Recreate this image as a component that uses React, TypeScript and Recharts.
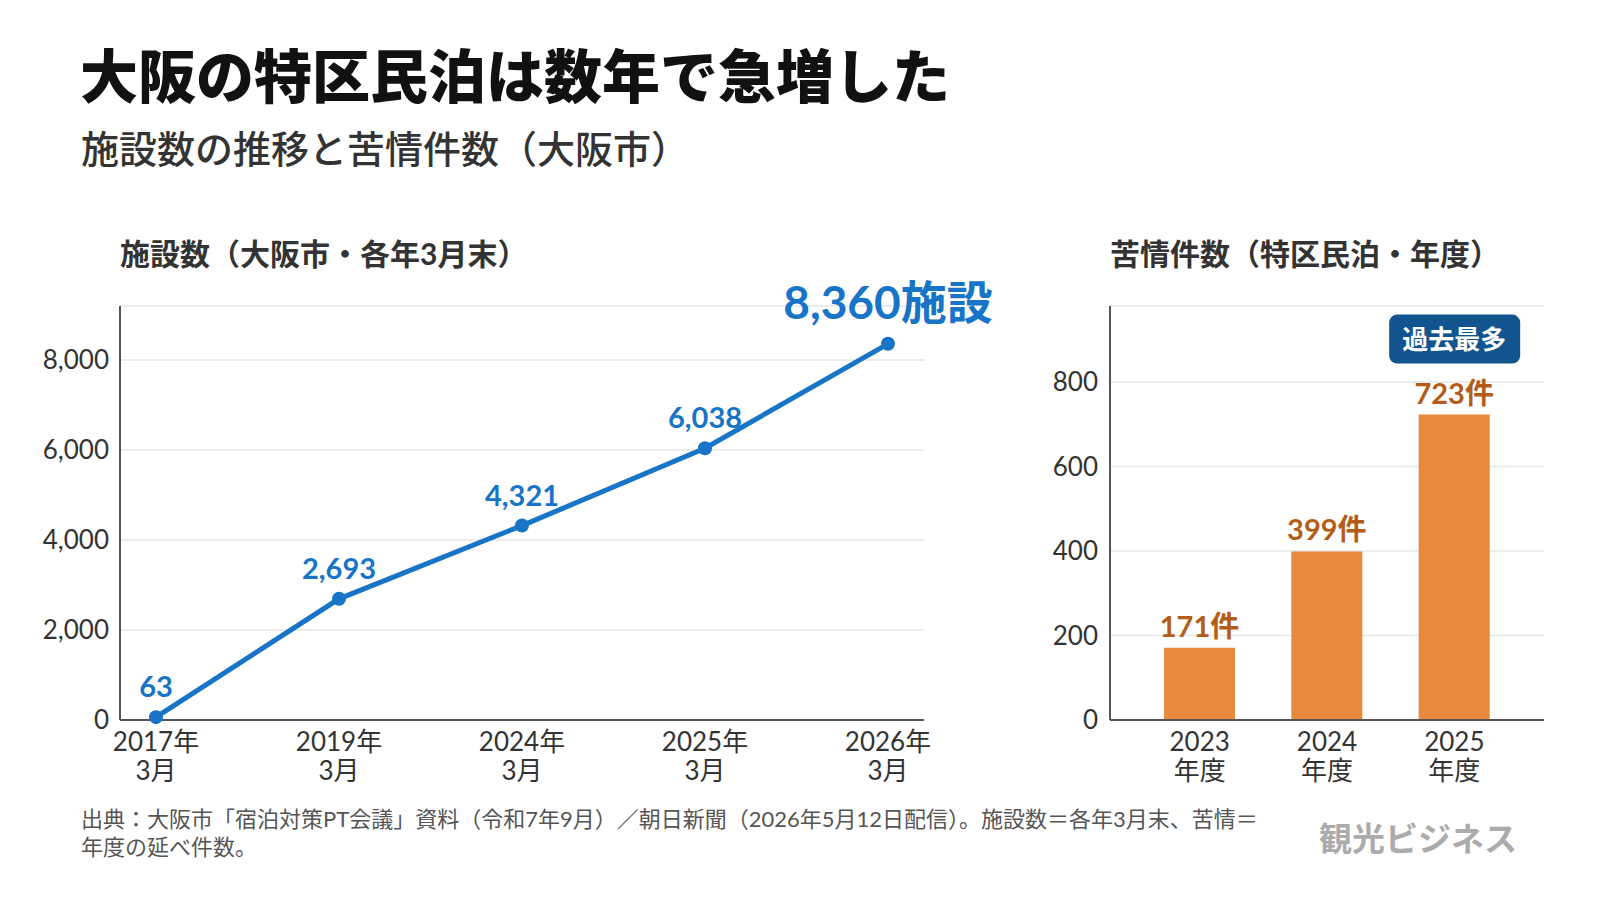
import { LineChart, Line, BarChart, Bar, XAxis, YAxis, CartesianGrid, LabelList } from 'recharts'

const facilityYears = ['2017年', '2019年', '2024年', '2025年', '2026年']
const facilityMonth = '3月'
const facilityCounts = [63, 2693, 4321, 6038, 8360]
const facilityTicks = [0, 2000, 4000, 6000, 8000]

const complaintYears = ['2023', '2024', '2025']
const complaintSuffix = '年度'
const complaintCounts = [171, 399, 723]
const complaintTicks = [0, 200, 400, 600, 800]

const BLUE = '#1874c6'
const ORANGE = '#e8893b'
const ORANGE_TEXT = '#b35d19'
const NAVY = '#12548e'
const AXIS = '#555555'
const GRID = '#e6e6e6'
const TEXT = '#333333'
const FONT = "Lato, 'Noto Sans CJK JP', sans-serif"

const lineData = facilityYears.map((year, i) => ({ year, count: facilityCounts[i] }))
const barData = complaintYears.map((year, i) => ({ year, count: complaintCounts[i] }))

const TwoLineTick = ({ x, y, payload, second }: any) => (
  <g>
    <text x={x} y={y + 23} textAnchor="middle" fill={TEXT} fontSize={26} fontFamily={FONT}>
      {payload.value}
    </text>
    <text x={x} y={y + 52} textAnchor="middle" fill={TEXT} fontSize={26} fontFamily={FONT}>
      {second}
    </text>
  </g>
)

const LineValueLabel = ({ x, y, value, index }: any) => {
  const last = index === facilityCounts.length - 1
  const text = value.toLocaleString('en-US') + (last ? '施設' : '')
  return (
    <text
      x={x}
      y={last ? y - 25 : y - 20}
      textAnchor="middle"
      fill={BLUE}
      fontSize={last ? 46 : 29}
      fontWeight={700}
      fontFamily={FONT}
    >
      {text}
    </text>
  )
}

const BarValueLabel = ({ x, y, width, value }: any) => {
  const cx = x + width / 2
  const isMax = value === Math.max(...complaintCounts)
  return (
    <g>
      <text x={cx} y={y - 11} textAnchor="middle" fill={ORANGE_TEXT} fontSize={29} fontWeight={700} fontFamily={FONT}>
        {value}件
      </text>
      {isMax && (
        <g>
          <rect x={cx - 65} y={y - 100} width={131} height={49} rx={8} fill={NAVY} />
          <text x={cx} y={y - 66} textAnchor="middle" fill="#fff" fontSize={26} fontWeight={700} fontFamily={FONT}>
            過去最多
          </text>
        </g>
      )}
    </g>
  )
}

const abs = (left: number, top: number, extra: any = {}) => ({
  position: 'absolute' as const,
  left,
  top,
  lineHeight: 1,
  whiteSpace: 'nowrap' as const,
  fontFamily: FONT,
  ...extra,
})

export default function App() {
  return (
    <div style={{ position: 'absolute', left: 0, top: 0, width: 1600, height: 900, background: '#fff', overflow: 'hidden' }}>
      <div style={abs(80, 47, { fontSize: 58, fontWeight: 900, color: '#111' })}>大阪の特区民泊は数年で急増した</div>
      <div style={abs(81, 129, { fontSize: 38, fontWeight: 500, color: TEXT })}>施設数の推移と苦情件数（大阪市）</div>

      <div style={abs(120, 238, { fontSize: 30, fontWeight: 700, color: TEXT })}>施設数（大阪市・各年3月末）</div>
      <div style={abs(1110, 238, { fontSize: 30, fontWeight: 700, color: TEXT })}>苦情件数（特区民泊・年度）</div>

      <div style={{ position: 'absolute', left: 0, top: 250 }}>
        <LineChart width={1010} height={550} data={lineData} margin={{ top: 56, right: 86, left: 20, bottom: 10 }}>
          <CartesianGrid vertical={false} stroke={GRID} strokeWidth={1.5} />
          <XAxis
            dataKey="year"
            height={70}
            padding={{ left: 36, right: 36 }}
            stroke={AXIS}
            strokeWidth={2}
            tickLine={false}
            interval={0}
            tick={<TwoLineTick second={facilityMonth} />}
          />
          <YAxis
            width={100}
            domain={[0, 9200]}
            ticks={facilityTicks}
            stroke={AXIS}
            strokeWidth={2}
            tickLine={false}
            tickMargin={5}
            tick={{ fill: TEXT, fontSize: 26, fontFamily: FONT }}
            tickFormatter={(v: number) => v.toLocaleString('en-US')}
          />
          <Line
            type="linear"
            dataKey="count"
            stroke={BLUE}
            strokeWidth={5}
            dot={{ r: 7, fill: BLUE, stroke: BLUE, strokeWidth: 0 }}
            activeDot={false}
            isAnimationActive={false}
          >
            <LabelList dataKey="count" content={<LineValueLabel />} />
          </Line>
        </LineChart>
      </div>

      <div style={{ position: 'absolute', left: 1010, top: 250 }}>
        <BarChart width={564} height={550} data={barData} margin={{ top: 56, right: 30, left: 0, bottom: 10 }} barCategoryGap="22%">
          <CartesianGrid vertical={false} stroke={GRID} strokeWidth={1.5} />
          <XAxis
            dataKey="year"
            height={70}
            padding={{ left: 26, right: 26 }}
            stroke={AXIS}
            strokeWidth={2}
            tickLine={false}
            interval={0}
            tick={<TwoLineTick second={complaintSuffix} />}
          />
          <YAxis
            width={100}
            domain={[0, 980]}
            ticks={complaintTicks}
            stroke={AXIS}
            strokeWidth={2}
            tickLine={false}
            tickMargin={6}
            tick={{ fill: TEXT, fontSize: 26, fontFamily: FONT }}
          />
          <Bar dataKey="count" fill={ORANGE} isAnimationActive={false}>
            <LabelList dataKey="count" content={<BarValueLabel />} />
          </Bar>
        </BarChart>
      </div>

      <div style={abs(81, 805, { fontSize: 22, lineHeight: '28px', color: '#555' })}>
        出典：大阪市「宿泊対策PT会議」資料（令和7年9月）／朝日新聞（2026年5月12日配信）。施設数＝各年3月末、苦情＝
        <br />
        年度の延べ件数。
      </div>
      <div style={abs(1319, 822, { fontSize: 33, fontWeight: 700, color: '#ababab' })}>観光ビジネス</div>
    </div>
  )
}
